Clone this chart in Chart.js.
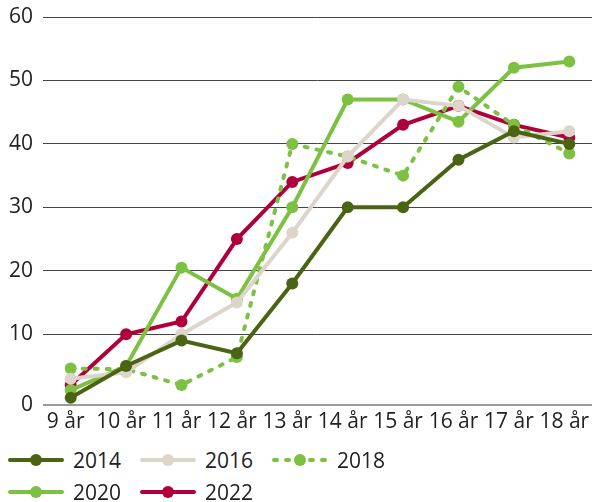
<html>
  <head>
    <script src="https://cdn.jsdelivr.net/npm/chart.js"></script>
    <style>
      html, body { margin: 0; overflow: hidden; background: #fff; font-family: "Open Sans", sans-serif; }
      #wrap { position: relative; width: 592px; height: 440px; }
      #legend { padding: 4px 0 0 8px; width: 584px; height: 58px; display: flex; flex-wrap: wrap; }
      .item { width: 132px; height: 32px; display: flex; align-items: center; }
      .item canvas { margin-right: 9px; }
      .item span { font-size: 21px; color: #222; }
    </style>
  </head>

  <body>
    <div id="wrap"><canvas id="myChart"></canvas></div>
    <div id="legend"></div>
    <script>
      const ages = ["9 år", "10 år", "11 år", "12 år", "13 år", "14 år", "15 år", "16 år", "17 år", "18 år"]
      const yTicks = [0, 10, 20, 30, 40, 50, 60]

      const s2014 = [0, 5, 9, 7, 18, 30, 30, 37.5, 42, 40]
      const s2016 = [3, 4, 10, 15, 26, 38, 47, 46, 41, 42]
      const s2018 = [4.6, 4.5, 2, 6.4, 40, 38, 35, 49, 43, 38.5]
      const s2020 = [1.2, 5, 20.5, 15.6, 30, 47, 47, 43.5, 52, 53]
      const s2022 = [2, 10, 12, 25, 34, 37, 43, 46, 43, 41]

      const series = [
        { label: "2014", values: s2014, color: "#4b6414", dash: [] },
        { label: "2016", values: s2016, color: "#ddd5ca", dash: [] },
        { label: "2018", values: s2018, color: "#7cc142", dash: [3, 9] },
        { label: "2020", values: s2020, color: "#7cc142", dash: [] },
        { label: "2022", values: s2022, color: "#b0003a", dash: [] }
      ]

      // the x axis line sits a bit below the zero level in the original
      const yMin = -1.15

      const datasets = series.map(function (s) {
        return {
          label: s.label,
          data: s.values.map(function (v, i) {
            return { x: i, y: v }
          }),
          borderColor: s.color,
          backgroundColor: s.color,
          borderWidth: 4,
          borderDash: s.dash,
          borderCapStyle: "round",
          pointRadius: 6,
          pointBorderWidth: 0,
          pointBackgroundColor: s.color,
          tension: 0
        }
      })

      const font = { family: "'Open Sans', sans-serif", size: 21 }

      const config = {
        type: "line",
        data: { datasets: datasets },
        options: {
          responsive: true,
          maintainAspectRatio: false,
          animation: false,
          layout: { autoPadding: false, padding: { top: 17, left: 0, right: 0, bottom: 0 } },
          plugins: { legend: { display: false }, tooltip: { enabled: false } },
          scales: {
            x: {
              type: "linear",
              min: -0.5,
              max: 9.41,
              grid: { display: false, drawTicks: false },
              border: { display: false },
              afterBuildTicks: function (scale) {
                scale.ticks = ages.map(function (a, i) {
                  return { value: i }
                })
              },
              afterFit: function (scale) {
                scale.height = 35
                scale.paddingLeft = 0
                scale.paddingRight = 0
              },
              ticks: {
                autoSkip: false,
                maxRotation: 0,
                padding: 4,
                labelOffset: -5,
                color: "#222",
                font: font,
                callback: function (v) {
                  return ages[v]
                }
              }
            },
            y: {
              min: yMin,
              max: 60,
              border: { display: false },
              grid: {
                drawTicks: false,
                color: function (ctx) {
                  return ctx.index === 0 ? "#9a9a9a" : "#444"
                },
                lineWidth: function (ctx) {
                  return ctx.index === 0 ? 2 : 1
                }
              },
              afterBuildTicks: function (scale) {
                scale.ticks = yTicks.map(function (t) {
                  return { value: t === 0 ? yMin : t }
                })
              },
              afterFit: function (scale) {
                scale.width = 43
                scale.paddingTop = 0
                scale.paddingBottom = 0
              },
              ticks: {
                padding: 10,
                color: "#222",
                font: font,
                callback: function (v) {
                  return v === yMin ? "0" : v
                }
              }
            }
          }
        }
      }

      const myChart = new Chart(document.getElementById("myChart"), config)

      // legend: line + dot swatches, two rows like the original
      const legend = document.getElementById("legend")
      series.forEach(function (s) {
        const item = document.createElement("div")
        item.className = "item"
        const c = document.createElement("canvas")
        c.width = 56
        c.height = 16
        const g = c.getContext("2d")
        g.strokeStyle = s.color
        g.lineWidth = 4
        g.lineCap = "round"
        g.setLineDash(s.dash)
        g.beginPath()
        g.moveTo(2, 8)
        g.lineTo(54, 8)
        g.stroke()
        g.fillStyle = s.color
        g.beginPath()
        g.arc(28, 8, 6, 0, Math.PI * 2)
        g.fill()
        const t = document.createElement("span")
        t.textContent = s.label
        item.appendChild(c)
        item.appendChild(t)
        legend.appendChild(item)
        if (s.label === "2018") {
          const br = document.createElement("div")
          br.style.width = "100%"
          legend.appendChild(br)
        }
      })
    </script>
  </body>
</html>
